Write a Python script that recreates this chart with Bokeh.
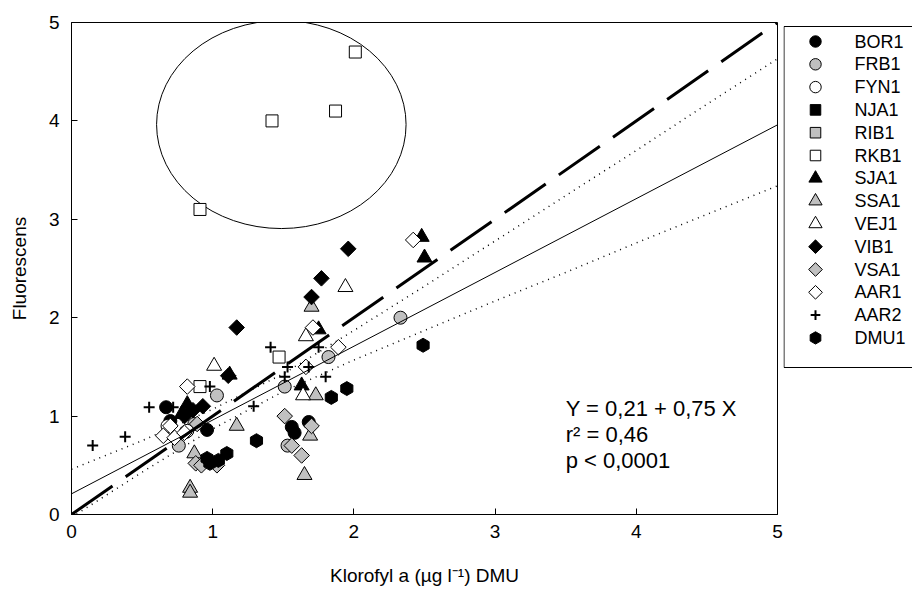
import numpy as np
from bokeh.plotting import figure
from bokeh.models import Slope, Label, FixedTicker, Range1d, ColumnDataSource
from bokeh.layouts import row
from bokeh.core.properties import value
from bokeh.embed import file_html
from bokeh.resources import INLINE

# ---- data ----
bor1_x = [0.67, 0.70, 0.81, 0.96, 1.56, 1.58, 1.68]
bor1_y = [1.09, 0.95, 0.84, 0.86, 0.89, 0.83, 0.94]
frb1_x = [0.76, 0.87, 1.03, 1.51, 1.53, 1.82, 2.33]
frb1_y = [0.70, 0.92, 1.21, 1.30, 0.70, 1.60, 2.00]
fyn1_x = [0.68, 0.82]
fyn1_y = [0.90, 0.85]
nja1_x = []
nja1_y = []
rib1_x = []
rib1_y = []
rkb1_x = [0.91, 1.47, 0.91, 1.42, 1.87, 2.01]
rkb1_y = [1.30, 1.60, 3.10, 4.00, 4.10, 4.70]
sja1_x = [0.82, 0.78, 1.12, 1.63, 1.75, 2.48, 2.50]
sja1_y = [1.12, 1.02, 1.42, 1.31, 1.88, 2.82, 2.61]
ssa1_x = [0.84, 0.84, 0.87, 1.17, 1.65, 1.69, 1.73, 1.70]
ssa1_y = [0.27, 0.22, 0.62, 0.90, 0.40, 0.80, 1.21, 2.11]
vej1_x = [1.01, 1.64, 1.66, 1.94]
vej1_y = [1.51, 1.21, 1.81, 2.31]
vib1_x = [0.80, 0.86, 0.93, 1.11, 1.17, 1.70, 1.77, 1.96]
vib1_y = [1.00, 1.06, 1.10, 1.41, 1.90, 2.21, 2.40, 2.70]
vsa1_x = [0.88, 0.92, 1.03, 0.89, 1.51, 1.56, 1.63, 1.70]
vsa1_y = [0.52, 0.50, 0.50, 0.92, 1.00, 0.70, 0.60, 0.90]
aar1_x = [0.65, 0.73, 0.80, 0.70, 0.82, 1.66, 1.71, 1.89, 2.42]
aar1_y = [0.80, 0.78, 0.83, 0.90, 1.30, 1.50, 1.90, 1.70, 2.79]
aar2_x = [0.15, 0.38, 0.55, 0.72, 0.84, 0.98, 1.29, 1.41, 1.51, 1.53, 1.68, 1.75, 1.80]
aar2_y = [0.70, 0.79, 1.09, 1.09, 1.07, 1.30, 1.10, 1.70, 1.40, 1.50, 1.50, 1.70, 1.40]
dmu1_x = [0.96, 0.98, 1.04, 1.10, 1.31, 1.84, 1.95, 2.49]
dmu1_y = [0.57, 0.52, 0.55, 0.62, 0.75, 1.19, 1.28, 1.72]

# regression (from the printed equation) and 95% band
reg_intercept = 0.21
reg_slope = 0.75
band_x = [0, 0.5, 1, 1.5, 2, 2.5, 3, 3.5, 4, 4.5, 5]
band_upper = [0.46, 0.75, 1.07, 1.43, 1.87, 2.32, 2.78, 3.24, 3.70, 4.17, 4.63]
band_lower = [-0.03, 0.43, 0.87, 1.25, 1.57, 1.87, 2.17, 2.46, 2.76, 3.05, 3.34]

ticks = [0, 1, 2, 3, 4, 5]
stat_lines = ["Y = 0,21 + 0,75 X", "r\u00b2 = 0,46", "p < 0,0001"]

FONT = "Liberation Sans"
GREY = "#c0c0c0"
TOP, BOTTOM = 22, 78
HEIGHT = 592

p = figure(width=783, height=HEIGHT, output_backend="svg", toolbar_location=None,
           x_range=Range1d(0, 5), y_range=Range1d(0, 5),
           min_border_left=71, min_border_right=6, min_border_top=TOP,
           min_border_bottom=BOTTOM)
p.grid.visible = False
p.outline_line_color = "black"
p.outline_line_width = 1
p.background_fill_color = "white"
p.border_fill_color = "white"

for ax in (p.xaxis[0], p.yaxis[0]):
    ax.ticker = FixedTicker(ticks=ticks)
    ax.minor_tick_line_color = None
    ax.major_tick_in = 6
    ax.major_tick_out = 0
    ax.axis_line_color = "black"
    ax.major_tick_line_color = "black"
    ax.major_label_text_font = FONT
    ax.major_label_text_font_size = "19px"
    ax.major_label_text_color = "black"
    ax.axis_label_text_font = FONT
    ax.axis_label_text_font_size = "19px"
    ax.axis_label_text_font_style = "normal"
    ax.axis_label_text_color = "black"

p.xaxis.axis_label = "Klorofyl a (µg l\u207b\u00b9) DMU"
p.yaxis.axis_label = "Fluorescens"
p.xaxis.major_label_standoff = 10
p.yaxis.major_label_standoff = 12
p.xaxis.axis_label_standoff = 24
p.yaxis.axis_label_standoff = 16

# ellipse
p.ellipse(x=1.486, y=3.963, width=1.767, height=2.114, fill_color=None,
          line_color="black", line_width=1)

# lines
p.add_layout(Slope(gradient=1, y_intercept=0, line_color="black", line_width=3,
                   line_dash="50 16"))
p.add_layout(Slope(gradient=reg_slope, y_intercept=reg_intercept, line_color="black",
                   line_width=1))
p.line(band_x, band_upper, line_color="black", line_width=1.5, line_dash="1 5")
p.line(band_x, band_lower, line_color="black", line_width=1.5, line_dash="1 5")

specs = [
    ("BOR1", bor1_x, bor1_y, "circle", "black", 13, 0),
    ("FRB1", frb1_x, frb1_y, "circle", GREY, 13, 0),
    ("FYN1", fyn1_x, fyn1_y, "circle", "white", 13, 0),
    ("NJA1", nja1_x, nja1_y, "square", "black", 12, 0),
    ("RIB1", rib1_x, rib1_y, "square", GREY, 12, 0),
    ("RKB1", rkb1_x, rkb1_y, "square", "white", 12, 0),
    ("SJA1", sja1_x, sja1_y, "triangle", "black", 15, 0),
    ("SSA1", ssa1_x, ssa1_y, "triangle", GREY, 15, 0),
    ("VEJ1", vej1_x, vej1_y, "triangle", "white", 15, 0),
    ("VIB1", vib1_x, vib1_y, "square", "black", 11, np.pi / 4),
    ("VSA1", vsa1_x, vsa1_y, "square", GREY, 11, np.pi / 4),
    ("AAR1", aar1_x, aar1_y, "square", "white", 11, np.pi / 4),
    ("AAR2", aar2_x, aar2_y, "cross", "black", 11, 0),
    ("DMU1", dmu1_x, dmu1_y, "hex", "black", 14, np.pi / 6),
]

for name, xs, ys, marker, fill, size, ang in specs:
    lw = 2 if marker == "cross" else 1
    if len(xs):
        p.scatter(xs, ys, marker=marker, size=size, angle=ang, fill_color=fill,
                  line_color="black", line_width=lw)

for i, txt in enumerate(stat_lines):
    p.add_layout(Label(x=3.5, y=1.077 - 0.264 * i, text=txt, text_font=FONT,
                       text_font_size="22px", text_baseline="middle", text_color="black"))

# ---- legend panel (separate figure; its y range is in page pixels, top-down) ----
ROW_PX = 22.8
FIRST_PX = 41.0
n = len(specs)
leg = figure(width=129, height=HEIGHT, output_backend="svg", toolbar_location=None,
             x_range=Range1d(0, 129),
             y_range=Range1d(start=HEIGHT - BOTTOM, end=TOP),
             min_border_left=0, min_border_right=0, min_border_top=TOP,
             min_border_bottom=BOTTOM, x_axis_location=None, y_axis_location=None)
leg.grid.visible = False
leg.outline_line_color = None
leg.background_fill_color = "white"
leg.border_fill_color = "white"

src = ColumnDataSource(dict(
    ypos=[FIRST_PX + ROW_PX * i for i in range(n)],
    name=[s[0] for s in specs],
    marker=[s[3] for s in specs],
    fill=[s[4] for s in specs],
    size=[s[5] * 0.88 for s in specs],
    angle=[s[6] for s in specs],
    lw=[2 if s[3] == "cross" else 1 for s in specs],
))
leg.scatter(x=32, y="ypos", marker="marker", size="size", angle="angle",
            fill_color="fill", line_color="black", line_width="lw", source=src)
leg.text(x=71, y="ypos", text="name", source=src, text_baseline="middle",
         text_font=value(FONT), text_font_size="18px", text_color="black")
leg.line(x=[200, 0.5, 0.5, 200], y=[26, 26, 367, 367], line_color="black",
         line_width=1)

open("out.html", "w").write(file_html(row(p, leg), INLINE))
